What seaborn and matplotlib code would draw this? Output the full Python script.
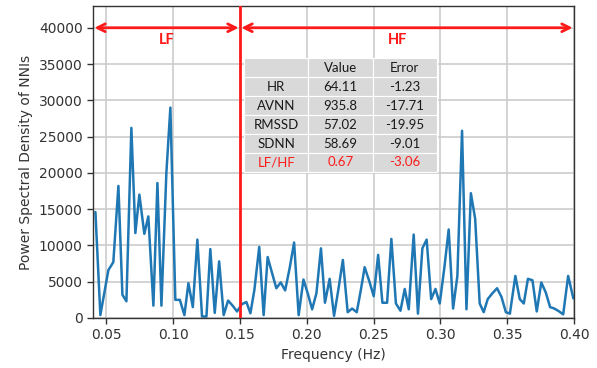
import matplotlib
matplotlib.use("Agg")
import matplotlib.pyplot as plt
import seaborn as sns
import pandas as pd

# ---- data ----
freq = [0.0418, 0.0455, 0.0485, 0.0515, 0.0552, 0.0590, 0.0620, 0.0650, 0.0687, 0.0717,
        0.0747, 0.0784, 0.0814, 0.0852, 0.0882, 0.0912, 0.0949, 0.0979, 0.1016, 0.1050,
        0.1084, 0.1114, 0.1147, 0.1181, 0.1216, 0.1249, 0.1278, 0.1311, 0.1344, 0.1378,
        0.1411, 0.1445, 0.1478, 0.1514, 0.1548, 0.1578, 0.1608, 0.1644, 0.1677, 0.1707,
        0.1740, 0.1772, 0.1805, 0.1838, 0.1872, 0.1905, 0.1939, 0.1975, 0.2007, 0.2040,
        0.2072, 0.2106, 0.2136, 0.2171, 0.2204, 0.2237, 0.2270, 0.2306, 0.2339, 0.2374,
        0.2405, 0.2433, 0.2469, 0.2501, 0.2534, 0.2566, 0.2601, 0.2633, 0.2667, 0.2701,
        0.2733, 0.2763, 0.2800, 0.2832, 0.2865, 0.2897, 0.2931, 0.2963, 0.2995, 0.3030,
        0.3062, 0.3095, 0.3127, 0.3162, 0.3195, 0.3228, 0.3260, 0.3294, 0.3324, 0.3354,
        0.3389, 0.3424, 0.3457, 0.3490, 0.3520, 0.3561, 0.3594, 0.3624, 0.3655, 0.3689,
        0.3721, 0.3755, 0.3789, 0.3821, 0.3853, 0.3885, 0.3919, 0.3956, 0.3995]

psd = [14600, 400, 3500, 6600, 7700, 18200, 3200, 2300, 26200, 11700,
       17000, 11600, 14000, 1700, 18600, 1700, 20000, 29000, 2500, 2500,
       400, 4800, 1500, 10800, 200, 200, 9500, 700, 7800, 400,
       2400, 1700, 900, 1900, 2200, 650, 3900, 9800, 400, 8400,
       6200, 4100, 4900, 3800, 6900, 10400, 400, 5300, 3400, 1200,
       3400, 9600, 2100, 5400, 300, 4000, 8000, 800, 1300, 800,
       3900, 7000, 5000, 3000, 8700, 2100, 2100, 10900, 2000, 1000,
       4000, 1200, 11500, 600, 9600, 10800, 2600, 4000, 2000, 7000,
       12200, 1300, 5800, 25800, 1200, 17200, 13700, 2000, 800, 2600,
       3400, 4100, 2900, 800, 600, 5800, 2600, 2000, 5400, 5200,
       900, 4900, 3500, 1500, 1300, 950, 500, 5800, 2700]

xticks = [0.05, 0.10, 0.15, 0.20, 0.25, 0.30, 0.35, 0.40]
yticks = [0, 5000, 10000, 15000, 20000, 25000, 30000, 35000, 40000]

band_split = 0.15
band_labels = ["LF", "HF"]

table_cols = ["", "Value", "Error"]
table_rows = ["HR", "AVNN", "RMSSD", "SDNN", "LF/HF"]
table_values = ["64.11", "935.8", "57.02", "58.69", "0.67"]
table_errors = ["-1.23", "-17.71", "-19.95", "-9.01", "-3.06"]

# ---- style ----
sns.set_style("whitegrid", {"axes.edgecolor": "0.2", "grid.color": "0.8",
                            "xtick.bottom": True, "ytick.left": True,
                            "xtick.color": "0.2", "ytick.color": "0.2",
                            "axes.labelcolor": "0.2", "text.color": "0.2"})
plt.rcParams["font.family"] = ["DejaVu Sans"]

fig = plt.figure(figsize=(5.97, 3.68), dpi=100)
ax = fig.add_axes([0.1558, 0.1359, 0.8057, 0.8478])

df = pd.DataFrame({"freq": freq, "psd": psd})
sns.lineplot(data=df, x="freq", y="psd", ax=ax, color="#1f77b4", lw=1.8,
             estimator=None, sort=False)

ax.set_xlim(0.04, 0.40)
ax.set_ylim(0, 43000)
ax.set_xticks(xticks)
ax.set_xticklabels([f"{t:.2f}" for t in xticks])
ax.set_yticks(yticks)
ax.set_yticklabels([str(t) for t in yticks])
ax.tick_params(labelsize=10, length=4, width=1, color="0.2")
ax.set_xlabel("Frequency (Hz)", fontsize=10)
ax.set_ylabel("Power Spectral Density of NNIs", fontsize=10)
ax.grid(True, lw=1.2, color="0.8")
for s in ax.spines.values():
    s.set_linewidth(1.0)
    s.set_color("0.2")

ax.axvline(band_split, color="#ff1a1a", lw=2, zorder=3)

arr_y = 40000
ax.annotate("", xy=(0.04, arr_y), xytext=(band_split, arr_y),
            arrowprops=dict(arrowstyle="<->", color="#ff1a1a", lw=2,
                            shrinkA=1, shrinkB=1, mutation_scale=14))
ax.annotate("", xy=(band_split, arr_y), xytext=(0.40, arr_y),
            arrowprops=dict(arrowstyle="<->", color="#ff1a1a", lw=2,
                            shrinkA=1, shrinkB=1, mutation_scale=14))
ax.text(0.095, 38300, band_labels[0], color="#ff1a1a", fontsize=10.5,
        fontweight="bold", family="Lato", ha="center", va="center")
ax.text(0.268, 38300, band_labels[1], color="#ff1a1a", fontsize=10.5,
        fontweight="bold", family="Lato", ha="center", va="center")

# ---- table ----
cell_text = [table_cols] + [[r, v, e] for r, v, e in zip(table_rows, table_values, table_errors)]
tbl = ax.table(cellText=cell_text, cellLoc="center",
               bbox=[0.314, 0.468, 0.401, 0.365], zorder=5)
tbl.auto_set_font_size(False)
nrows = len(cell_text)
for (r, c), cell in tbl.get_celld().items():
    cell.set_facecolor("#d9d9d9")
    cell.set_edgecolor("white")
    cell.set_linewidth(0.8)
    txt = cell.get_text()
    txt.set_fontsize(9.5)
    txt.set_family("Lato")
    txt.set_color("#ff1a1a" if r == nrows - 1 else "#1a1a1a")

fig.savefig("out.png", dpi=100)
